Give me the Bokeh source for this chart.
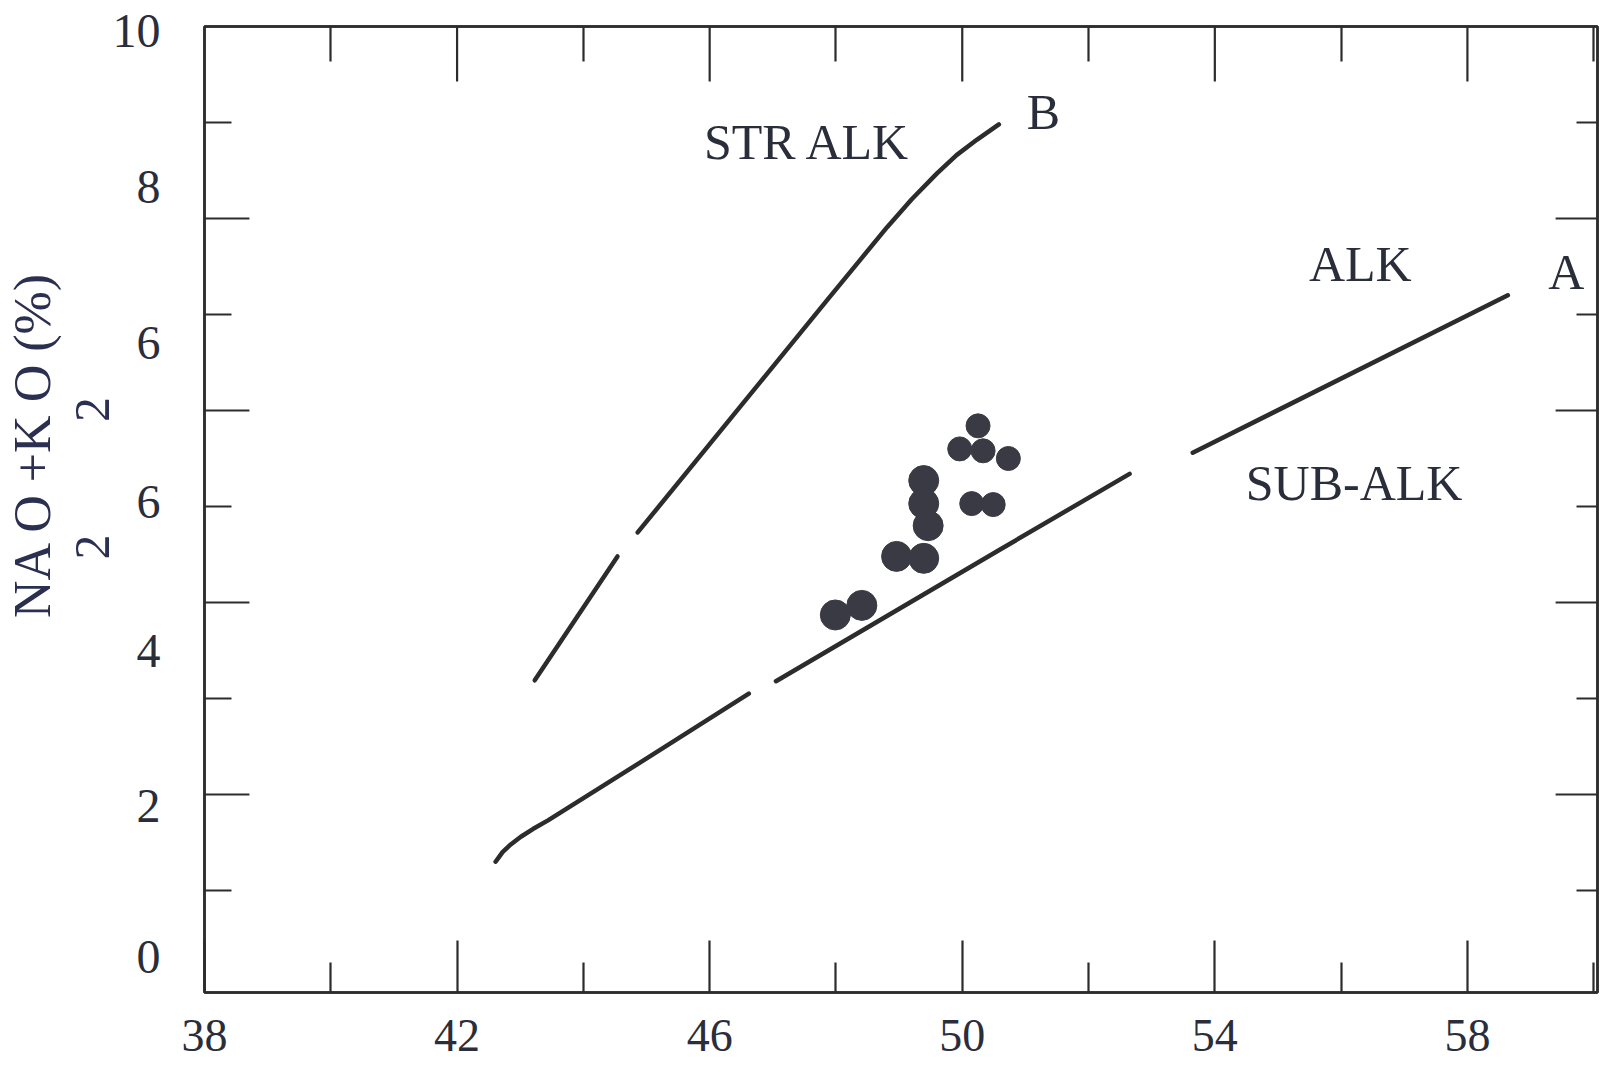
from bokeh.plotting import figure
from bokeh.models import Range1d, FixedTicker, LinearAxis, ColumnDataSource
from bokeh.core.properties import value
from bokeh.embed import file_html
from bokeh.resources import INLINE

# ---- data -------------------------------------------------------------
# samples (SiO2 %, Na2O+K2O %)
sio2_large = [47.99, 48.41, 48.96, 49.39, 49.39, 49.39, 49.46]
alk_large = [3.87, 3.97, 4.48, 4.46, 5.27, 5.03, 4.80]
sio2_small = [50.25, 49.96, 50.33, 50.73, 50.15, 50.49]
alk_small = [5.84, 5.60, 5.58, 5.50, 5.03, 5.02]

# boundary A (alkaline / sub-alkaline), drawn in three pieces
line_a_x = [[42.61, 42.72, 42.85, 43.01, 43.20, 43.44, 44.94, 46.62],
            [47.05, 50.62, 52.65],
            [53.65, 58.64]]
line_a_y = [[1.30, 1.40, 1.48, 1.56, 1.64, 1.73, 2.35, 3.05],
            [3.18, 4.56, 5.34],
            [5.56, 7.20]]
# boundary B (strongly alkaline / alkaline), drawn in two pieces
line_b_x = [[43.23, 44.54],
            [44.86, 46.41, 47.86, 48.41, 48.81, 49.20, 49.60, 49.91, 50.23, 50.58]]
line_b_y = [[3.19, 4.48],
            [4.73, 5.98, 7.15, 7.59, 7.91, 8.20, 8.47, 8.66, 8.82, 8.98]]

# axes
x_major_ticks = [38, 42, 46, 50, 54, 58]
x_minor_ticks = [40, 44, 48, 52, 56, 60]
y_even_ticks = [2, 4, 6, 8]
y_odd_ticks = [1, 3, 5, 7, 9]
y_label_values = [0.31, 1.88, 3.49, 5.05, 6.70, 8.33, 9.95]
y_label_texts = ["0", "2", "4", "6", "6", "8", "10"]
y_title = "NA O +K O (%)"
y_title_subs = "2" + "\u00a0" * 9 + "2"

# field names
region_texts = ["STR ALK", "B", "ALK", "A", "SUB-ALK"]
region_x = [45.91, 51.02, 55.49, 59.28, 54.49]
region_y = [8.80, 9.11, 7.53, 7.44, 5.24]

# ---- styling ------------------------------------------------------------
FONT = "Liberation Serif"
INK = "#2c2c2c"
TXT = "#2a2d3a"
TITLE_C = "#2b3050"
NBSP = "\u00a0"

W, H = 1600, 1073
BL, BR, BT, BB = 201, 3, 26, 81
X0, X1 = 38, 60.06
Y0, Y1 = -0.0625, 10.0
px_x = (W - BL - BR) / (X1 - X0)
px_y = (H - BT - BB) / (Y1 - Y0)

p = figure(width=W, height=H, output_backend="svg", toolbar_location=None,
           x_range=Range1d(X0, X1), y_range=Range1d(Y0, Y1),
           min_border_left=BL, min_border_right=BR, min_border_top=BT,
           min_border_bottom=BB, x_axis_type=None, y_axis_type=None)
p.grid.visible = False
p.background_fill_color = "white"
p.border_fill_color = "white"
p.outline_line_color = INK
p.outline_line_width = 2.5


def style_axis(ax, major_in, minor_in):
    ax.axis_line_color = INK
    ax.axis_line_width = 2.5
    ax.major_tick_line_color = INK
    ax.minor_tick_line_color = INK
    ax.major_tick_line_width = 2.2
    ax.minor_tick_line_width = 2.2
    ax.major_tick_in = major_in
    ax.major_tick_out = 0
    ax.minor_tick_in = minor_in
    ax.minor_tick_out = 0
    ax.major_label_text_font = FONT
    ax.major_label_text_color = TXT


# bottom axis
xb = LinearAxis(ticker=FixedTicker(ticks=x_major_ticks, minor_ticks=x_minor_ticks))
style_axis(xb, 52, 30)
xb.major_label_text_font_size = "46px"
xb.major_label_standoff = 27
p.add_layout(xb, "below")

# top axis (short ticks; long ones drawn below as segments)
xt = LinearAxis(ticker=FixedTicker(ticks=[], minor_ticks=x_minor_ticks))
style_axis(xt, 0, 35)
xt.major_label_standoff = 0
p.add_layout(xt, "above")

# left axis: labels where the reference prints them
yl = LinearAxis(ticker=FixedTicker(ticks=y_label_values, minor_ticks=y_odd_ticks))
style_axis(yl, 0, 27)
yl.major_label_overrides = {v: t for v, t in zip(y_label_values, y_label_texts)}
yl.major_label_text_font_size = "48px"
yl.major_label_standoff = 44
p.add_layout(yl, "left")


def title_axis(text, size, standoff):
    ax = LinearAxis(ticker=FixedTicker(ticks=[]))
    ax.axis_line_color = None
    ax.major_tick_line_color = None
    ax.minor_tick_line_color = None
    ax.major_label_standoff = 0
    ax.axis_label = text
    ax.axis_label_text_font = FONT
    ax.axis_label_text_font_size = size
    ax.axis_label_text_font_style = "normal"
    ax.axis_label_text_color = TITLE_C
    ax.axis_label_standoff = standoff
    p.add_layout(ax, "left")


# leading no-break spaces move the centred labels up to where the reference has them
title_axis(NBSP * 5 + y_title_subs, "50px", -10)
title_axis(NBSP * 10 + y_title, "52px", 0)

# right axis (short ticks)
yr = LinearAxis(ticker=FixedTicker(ticks=[], minor_ticks=y_odd_ticks))
style_axis(yr, 0, 21)
yr.major_label_standoff = 0
p.add_layout(yr, "right")

# long inward tick marks on top, left and right edges
top_major = x_major_ticks[1:]
p.segment(x0=top_major, y0=[Y1] * len(top_major), x1=top_major,
          y1=[Y1 - 55 / px_y] * len(top_major), line_color=INK, line_width=2.2)
p.segment(x0=[X0] * len(y_even_ticks), y0=y_even_ticks,
          x1=[X0 + 45 / px_x] * len(y_even_ticks), y1=y_even_ticks,
          line_color=INK, line_width=2.2)
p.segment(x0=[X1] * len(y_even_ticks), y0=y_even_ticks,
          x1=[X1 - 42 / px_x] * len(y_even_ticks), y1=y_even_ticks,
          line_color=INK, line_width=2.2)

# boundary lines
p.multi_line(line_a_x, line_a_y, line_color=INK, line_width=4.5,
             line_cap="round", line_join="round")
p.multi_line(line_b_x, line_b_y, line_color=INK, line_width=4.5,
             line_cap="round", line_join="round")

# samples
p.scatter(sio2_large, alk_large, size=30, marker="circle",
          fill_color="#3a3a44", line_color="#3a3a44")
p.scatter(sio2_small, alk_small, size=24, marker="circle",
          fill_color="#3a3a44", line_color="#3a3a44")

# field names
src = ColumnDataSource(dict(x=region_x, y=region_y, t=region_texts))
p.text(x="x", y="y", text="t", source=src, text_font=value(FONT),
       text_font_size="50px", text_color=TXT, text_align="left",
       text_baseline="alphabetic")

open("out.html", "w").write(file_html(p, INLINE))
